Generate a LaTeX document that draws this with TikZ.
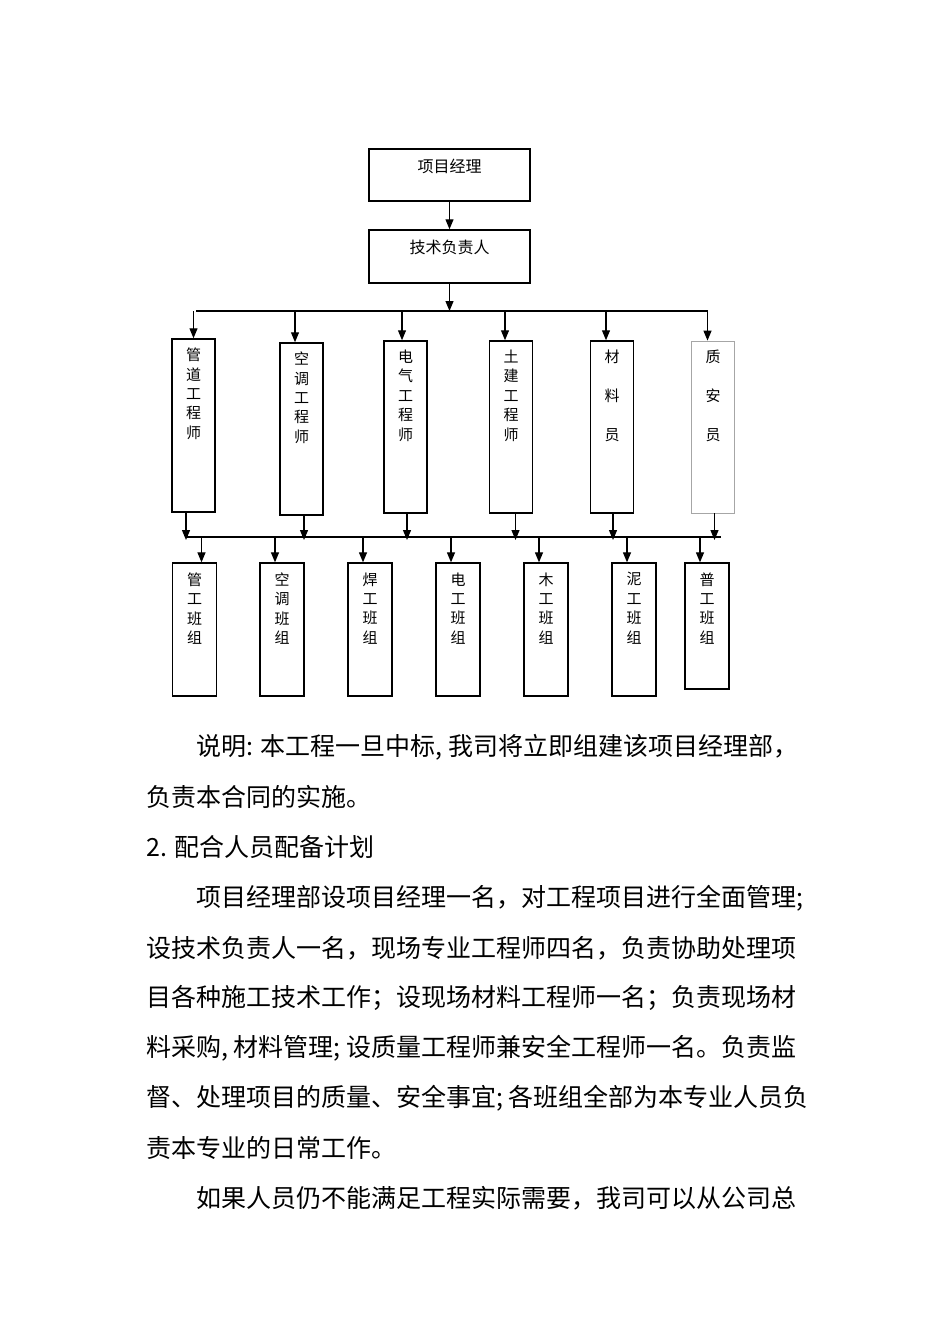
\documentclass[tikz,border=0pt]{standalone}
\usepackage{fontspec}
\newfontfamily\cjk{Noto Sans CJK SC}
\usetikzlibrary{arrows.meta}

\tikzset{
  headbox/.style={draw, line width=1.5pt, inner sep=0pt, minimum width=161pt, minimum height=52pt},
  engbox/.style={draw, line width=1.5pt, inner sep=0pt, minimum width=43pt, minimum height=172pt},
  teambox/.style={draw, line width=1.3pt, inner sep=0pt, minimum width=44pt, minimum height=133pt},
  headtext/.style={anchor=north, inner sep=0pt, font=\cjk\fontsize{16}{20}\selectfont},
  vtext/.style={anchor=north, align=center, inner sep=0pt, font=\cjk\fontsize{15}{19.4}\selectfont},
  arr/.style={line width=1.2pt, -{Triangle[length=10pt,width=8pt]}},
  bus/.style={line width=1.4pt},
  para/.style={anchor=west, inner sep=0pt, font=\cjk\fontsize{25}{25}\selectfont}
}

\begin{document}
\begin{tikzpicture}[x=1pt, y=-1pt]
  \useasboundingbox (0,0) rectangle (950,1344);

  % project manager and technical head
  \node[headbox] (pm) at (449.5,175) {};
  \node[headtext] (pmtxt) at ([yshift=-10.5pt]pm.north) {项目经理};
  \node[headbox, minimum height=53pt] (tech) at (449.5,256.5) {};
  \node[headtext] (techtxt) at ([yshift=-10.5pt]tech.north) {技术负责人};
  \draw[arr] (pm) -- (tech);

  % first bus line
  \coordinate (busA) at (196,311);
  \coordinate (busB) at (708,311);
  \draw[bus] (busA) -- (busB);
  \draw[arr] (tech) -- (tech |- busA);

  % engineers and staff
  \node[engbox, minimum height=173pt] (pipe) at (193.5,425.5) {};
  \node[engbox] (hvac) at (301.5,429) {};
  \node[engbox] (elec) at (405.5,427) {};
  \node[engbox] (civil) at (511,427) {};
  \node[engbox] (matl) at (612,427) {};
  \node[engbox, draw=gray!70, line width=0.8pt] (qs) at (713,427) {};

  \node[vtext] (pipetxt) at ([yshift=-9.5pt]pipe.north) {管\\道\\工\\程\\师};
  \node[vtext] (hvactxt) at ([yshift=-9.5pt]hvac.north) {空\\调\\工\\程\\师};
  \node[vtext] (electxt) at ([yshift=-9.5pt]elec.north) {电\\气\\工\\程\\师};
  \node[vtext] (civiltxt) at ([yshift=-9.5pt]civil.north) {土\\建\\工\\程\\师};
  \node[vtext] (matltxt) at ([yshift=-9.5pt]matl.north) {材\\[19.4pt]料\\[19.4pt]员};
  \node[vtext] (qstxt) at ([yshift=-9.5pt]qs.north) {质\\[19.4pt]安\\[19.4pt]员};

  \draw[arr] (pipe.north |- busA) -- (pipe.north);
  \draw[arr] ([xshift=-6.5pt]hvac.north |- busA) -- ([xshift=-6.5pt]hvac.north);
  \draw[arr] ([xshift=-3.5pt]elec.north |- busA) -- ([xshift=-3.5pt]elec.north);
  \draw[arr] ([xshift=-6pt]civil.north |- busA) -- ([xshift=-6pt]civil.north);
  \draw[arr] ([xshift=-6pt]matl.north |- busA) -- ([xshift=-6pt]matl.north);
  \draw[arr] ([xshift=-5.5pt]qs.north |- busA) -- ([xshift=-5.5pt]qs.north);

  % second bus line
  \coordinate (busC) at (187,537);
  \coordinate (busD) at (721,537);
  \draw[bus] (busC) -- (busD);

  \draw[arr, shorten >=-3pt] ([xshift=-7.5pt]pipe.south) -- ([xshift=-7.5pt]pipe.south |- busC);
  \draw[arr, shorten >=-3pt] ([xshift=2.5pt]hvac.south) -- ([xshift=2.5pt]hvac.south |- busC);
  \draw[arr, shorten >=-3pt] ([xshift=1.5pt]elec.south) -- ([xshift=1.5pt]elec.south |- busC);
  \draw[arr, shorten >=-3pt] ([xshift=4.5pt]civil.south) -- ([xshift=4.5pt]civil.south |- busC);
  \draw[arr, shorten >=-3pt] ([xshift=1pt]matl.south) -- ([xshift=1pt]matl.south |- busC);
  \draw[arr, shorten >=-3pt] ([xshift=1.5pt]qs.south) -- ([xshift=1.5pt]qs.south |- busC);

  % work teams
  \node[teambox] (tpipe) at (194.5,629.5) {};
  \node[teambox] (thvac) at (282,629.5) {};
  \node[teambox] (tweld) at (370,629.5) {};
  \node[teambox] (telec) at (458,629.5) {};
  \node[teambox] (twood) at (546,629.5) {};
  \node[teambox] (tmason) at (634,629.5) {};
  \node[teambox, minimum height=126pt] (tgen) at (707,626) {};

  \node[vtext] (tpipetxt) at ([yshift=-10pt]tpipe.north) {管\\工\\班\\组};
  \node[vtext] (thvactxt) at ([yshift=-10pt]thvac.north) {空\\调\\班\\组};
  \node[vtext] (tweldtxt) at ([yshift=-10pt]tweld.north) {焊\\工\\班\\组};
  \node[vtext] (telectxt) at ([yshift=-10pt]telec.north) {电\\工\\班\\组};
  \node[vtext] (twoodtxt) at ([yshift=-10pt]twood.north) {木\\工\\班\\组};
  \node[vtext] (tmasontxt) at ([yshift=-10pt]tmason.north) {泥\\工\\班\\组};
  \node[vtext] (tgentxt) at ([yshift=-10pt]tgen.north) {普\\工\\班\\组};

  \draw[arr] ([xshift=7pt]tpipe.north |- busC) -- ([xshift=7pt]tpipe.north);
  \draw[arr] ([xshift=-7pt]thvac.north |- busC) -- ([xshift=-7pt]thvac.north);
  \draw[arr] ([xshift=-7pt]tweld.north |- busC) -- ([xshift=-7pt]tweld.north);
  \draw[arr] ([xshift=-7pt]telec.north |- busC) -- ([xshift=-7pt]telec.north);
  \draw[arr] ([xshift=-7pt]twood.north |- busC) -- ([xshift=-7pt]twood.north);
  \draw[arr] ([xshift=-7pt]tmason.north |- busC) -- ([xshift=-7pt]tmason.north);
  \draw[arr] ([xshift=-7pt]tgen.north |- busC) -- ([xshift=-7pt]tgen.north);

  % text below the chart
  \node[para] (l1) at (196,747) {说明: 本工程一旦中标, 我司将立即组建该项目经理部，};
  \node[para] (l2) at (146,797) {负责本合同的实施。};
  \node[para] (l3) at (146,847) {2. 配合人员配备计划};
  \node[para] (l4) at (196,898) {项目经理部设项目经理一名，对工程项目进行全面管理;};
  \node[para] (l5) at (146,948) {设技术负责人一名，现场专业工程师四名，负责协助处理项};
  \node[para] (l6) at (146,998) {目各种施工技术工作；设现场材料工程师一名；负责现场材};
  \node[para] (l7) at (146,1048) {料采购, 材料管理; 设质量工程师兼安全工程师一名。负责监};
  \node[para] (l8) at (146,1098) {督、处理项目的质量、安全事宜; 各班组全部为本专业人员负};
  \node[para] (l9) at (146,1148) {责本专业的日常工作。};
  \node[para] (l10) at (196,1198) {如果人员仍不能满足工程实际需要，我司可以从公司总};
\end{tikzpicture}
\end{document}
